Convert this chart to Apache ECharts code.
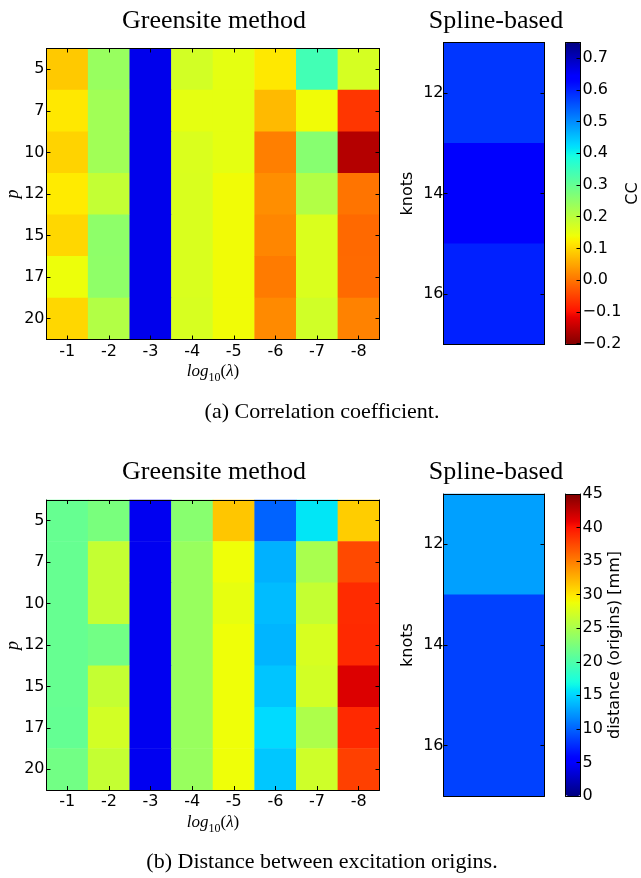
<!DOCTYPE html>
<html>
<head>
<meta charset="utf-8">
<script src="https://cdn.jsdelivr.net/npm/echarts@6/dist/echarts.min.js"></script>
<style>
  html, body { margin: 0; padding: 0; background: #fff; }
  #chart { width: 641px; height: 878px; }
</style>
</head>
<body>
<div id="chart"></div>
<script>
// categories
const lambdaLabels = ['-1', '-2', '-3', '-4', '-5', '-6', '-7', '-8'];
const pLabels = ['5', '7', '10', '12', '15', '17', '20'];
const knotLabels = ['12', '14', '16'];

// (a) correlation coefficient, rows = p, cols = log10(lambda)
const ccGreensite = [
  [0.085, 0.24, 0.66, 0.173, 0.15, 0.116, 0.34, 0.17],
  [0.116, 0.23, 0.66, 0.15, 0.15, 0.07, 0.137, -0.063],
  [0.095, 0.23, 0.66, 0.164, 0.15, 0.011, 0.26, -0.16],
  [0.12, 0.19, 0.66, 0.165, 0.137, 0.026, 0.21, 0.0],
  [0.10, 0.252, 0.66, 0.165, 0.137, 0.018, 0.164, -0.012],
  [0.142, 0.25, 0.66, 0.165, 0.137, 0.006, 0.164, -0.01],
  [0.10, 0.21, 0.66, 0.167, 0.137, 0.022, 0.176, 0.014],
];
const ccSpline = [0.58, 0.645, 0.60];

// (b) distance between origins [mm]
const distGreensite = [
  [21.3, 22.4, 4.4, 23.2, 31.5, 10.0, 15.8, 31.2],
  [21.3, 26.5, 4.4, 24.1, 28.8, 13.4, 25.0, 37.5],
  [21.3, 26.5, 4.4, 24.1, 28.4, 13.9, 26.5, 38.9],
  [21.3, 22.0, 4.4, 24.1, 28.8, 13.6, 27.5, 39.0],
  [21.3, 26.5, 4.4, 24.1, 28.8, 14.3, 27.2, 41.4],
  [21.2, 27.2, 4.4, 24.1, 28.8, 15.3, 25.2, 39.0],
  [22.0, 26.5, 4.4, 24.1, 28.8, 14.4, 27.0, 37.9],
];
const distSpline = [12.7, 8.5, 8.5];

// colorbar scales
const ccRange = [-0.203, 0.749];
const ccTicks = [-0.2, -0.1, 0, 0.1, 0.2, 0.3, 0.4, 0.5, 0.6, 0.7];
const distRange = [0, 45];
const distTicks = [0, 5, 10, 15, 20, 25, 30, 35, 40, 45];

// matplotlib jet
const JET = {
  r: [[0, 0], [0.35, 0], [0.66, 1], [0.89, 1], [1, 0.5]],
  g: [[0, 0], [0.125, 0], [0.375, 1], [0.64, 1], [0.91, 0], [1, 0]],
  b: [[0, 0.5], [0.11, 1], [0.34, 1], [0.65, 0], [1, 0]],
};
function seg(pts, t) {
  for (let i = 1; i < pts.length; i++) {
    if (t <= pts[i][0]) {
      const [x0, y0] = pts[i - 1], [x1, y1] = pts[i];
      return y0 + (y1 - y0) * (t - x0) / (x1 - x0);
    }
  }
  return pts[pts.length - 1][1];
}
const jetColors = [];
for (let i = 0; i <= 100; i++) {
  const t = i / 100;
  jetColors.push('rgb(' + [seg(JET.r, t), seg(JET.g, t), seg(JET.b, t)].map(v => Math.round(v * 255)).join(',') + ')');
}

const SANS = 'DejaVu Sans';
const SERIF = 'Liberation Serif';
const line = { show: true, onZero: false, lineStyle: { color: '#000', width: 1 } };
const tick = (show) => ({ show, inside: true, length: 4, interval: 0, alignWithLabel: true, lineStyle: { color: '#000', width: 1 } });
const tickLabel = (show, margin) => ({ show, interval: 0, margin, color: '#000', fontFamily: SANS, fontSize: 16 });

const grid = [], xAxis = [], yAxis = [], series = [], visualMap = [], graphic = [];

function heatAxes(gi, xCats, yCats, showX, yMargin) {
  const xi = xAxis.length, yi = yAxis.length;
  xAxis.push({ type: 'category', gridIndex: gi, data: xCats, position: 'bottom', z: 10, axisLine: line, axisTick: tick(showX), axisLabel: tickLabel(showX, 4), splitLine: { show: false } });
  xAxis.push({ type: 'category', gridIndex: gi, data: xCats, position: 'top', z: 10, axisLine: line, axisTick: tick(showX), axisLabel: { show: false }, splitLine: { show: false } });
  yAxis.push({ type: 'category', gridIndex: gi, data: yCats, inverse: true, position: 'left', z: 10, axisLine: line, axisTick: tick(true), axisLabel: tickLabel(true, yMargin), splitLine: { show: false } });
  yAxis.push({ type: 'category', gridIndex: gi, data: yCats, inverse: true, position: 'right', z: 10, axisLine: line, axisTick: tick(true), axisLabel: { show: false }, splitLine: { show: false } });
  return [xi, yi];
}

function cbAxes(gi, range, ticks, fmt) {
  ['bottom', 'top'].forEach(pos => xAxis.push({ type: 'value', gridIndex: gi, min: 0, max: 1, position: pos, z: 10, axisLine: line, axisTick: { show: false }, axisLabel: { show: false }, splitLine: { show: false } }));
  yAxis.push({ type: 'value', gridIndex: gi, min: range[0], max: range[1], position: 'left', z: 10, axisLine: line, axisTick: { show: false }, axisLabel: { show: false }, splitLine: { show: false } });
  yAxis.push({ type: 'value', gridIndex: gi, min: range[0], max: range[1], position: 'right', z: 10, axisLine: line,
    axisTick: { show: true, inside: true, length: 4, customValues: ticks, lineStyle: { color: '#000', width: 1 } },
    axisLabel: { show: true, customValues: ticks, formatter: fmt, margin: 2, color: '#000', fontFamily: SANS, fontSize: 16 },
    splitLine: { show: false } });
}

function text(x, y, str, font, size, opts) {
  graphic.push(Object.assign({ type: 'text', x, y, z: 100,
    style: Object.assign({ text: str, fontFamily: font, fontSize: size, fill: '#000', align: 'center', verticalAlign: 'middle' }, opts && opts.style || {}) },
    opts && opts.rotation ? { rotation: opts.rotation } : {}));
}

const panels = [
  { dy: 0, mainTop: 48.5, mainH: 291, green: ccGreensite, spline: ccSpline, range: ccRange, ticks: ccTicks,
    colors: jetColors.slice().reverse(), fmt: v => (v < -1e-9 ? '\u2212' : '') + Math.abs(v).toFixed(1),
    cbName: 'CC', cbNameX: 633, caption: '(a) Correlation coefficient.' },
  { dy: 451.5, mainTop: 500, mainH: 290, green: distGreensite, spline: distSpline, range: distRange, ticks: distTicks,
    colors: jetColors, fmt: v => String(Math.round(v)),
    cbName: 'distance (origins) [mm]', cbNameX: 615, caption: '(b) Distance between excitation origins.' },
];

panels.forEach((P, k) => {
  const sTop = 42.5 + P.dy;
  const g0 = grid.length;
  grid.push({ left: 46.5, top: P.mainTop, width: 333, height: P.mainH });
  grid.push({ left: 443.5, top: sTop, width: 101, height: 302 });
  grid.push({ left: 565.5, top: sTop, width: 15, height: 302 });

  const [mx, my] = heatAxes(g0, lambdaLabels, pLabels, true, 2);
  const [sx, sy] = heatAxes(g0 + 1, [''], knotLabels, false, 0);
  cbAxes(g0 + 2, P.range, P.ticks, P.fmt);

  const mainData = [];
  P.green.forEach((row, r) => row.forEach((v, c) => mainData.push([c, r, v])));
  const splineData = P.spline.map((v, r) => [0, r, v]);
  const s0 = series.length;
  series.push({ type: 'heatmap', xAxisIndex: mx, yAxisIndex: my, data: mainData, itemStyle: { borderWidth: 0 }, emphasis: { disabled: true }, progressive: 0 });
  series.push({ type: 'heatmap', xAxisIndex: sx, yAxisIndex: sy, data: splineData, itemStyle: { borderWidth: 0 }, emphasis: { disabled: true }, progressive: 0 });

  visualMap.push({ type: 'continuous', seriesIndex: [s0, s0 + 1], min: P.range[0], max: P.range[1],
    calculable: false, hoverLink: false, show: true, left: 565.5, top: sTop, itemWidth: 15, itemHeight: 302,
    padding: 0, inRange: { color: P.colors } });

  // titles, axis names, captions
  text(214, 20.7 + P.dy, 'Greensite method', SERIF, 26);
  text(496, 20.7 + P.dy, 'Spline-based', SERIF, 26);
  text(13, 194 + P.dy, 'p', SERIF, 18, { rotation: Math.PI / 2, style: { fontStyle: 'italic' } });
  text(213, 371.5 + P.dy, '{i|log}{s|10}{n|(}{i|λ}{n|)}', SERIF, 17, { style: { rich: {
    i: { fontFamily: SERIF, fontStyle: 'italic', fontSize: 17, lineHeight: 24 },
    n: { fontFamily: SERIF, fontSize: 17, lineHeight: 24 },
    s: { fontFamily: SERIF, fontSize: 12, lineHeight: 12, verticalAlign: 'bottom' } } } });
  text(407.5, 193.5 + P.dy, 'knots', SANS, 16, { rotation: Math.PI / 2 });
  text(P.cbNameX, 193.5 + P.dy, P.cbName, SANS, 16, { rotation: Math.PI / 2 });
  text(322, 412 + (k ? 450 : 0), P.caption, SERIF, 22);
});

const chart = echarts.init(document.getElementById('chart'));
chart.setOption({
  animation: false,
  backgroundColor: '#fff',
  grid, xAxis, yAxis, series, visualMap, graphic,
});
</script>
</body>
</html>
